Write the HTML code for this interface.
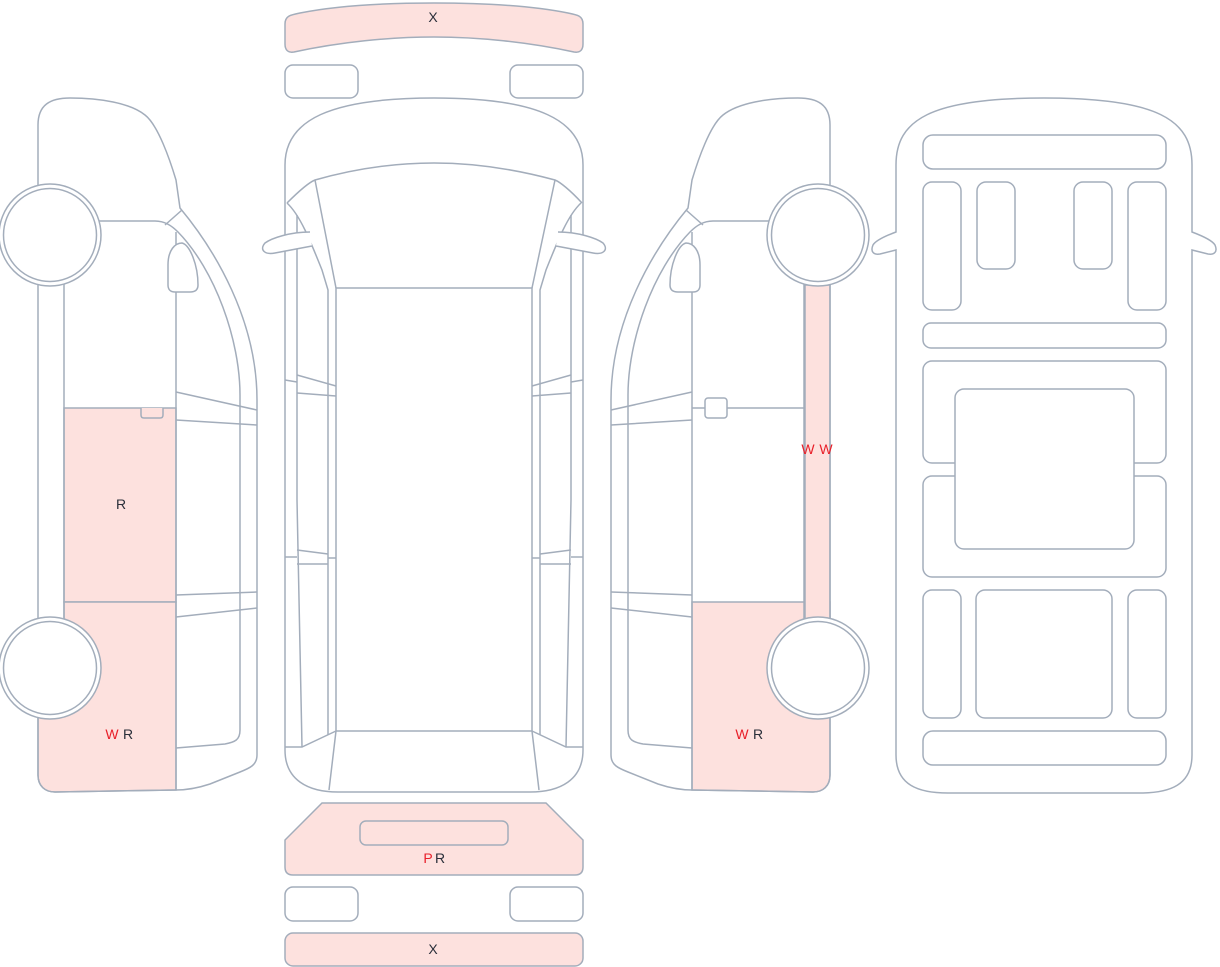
<!DOCTYPE html>
<html><head><meta charset="utf-8"><style>
html,body{margin:0;padding:0;background:#fff}
svg{display:block}
text{font-family:"Liberation Sans",sans-serif;font-size:14px;fill:#2a2f3a;text-anchor:middle}
.r{fill:#e8202a}
</style></head><body>
<svg width="1220" height="967" viewBox="0 0 1220 967" xmlns="http://www.w3.org/2000/svg">
<defs>
<g id="side">
  <path d="M38,185 L38,125 C38,105 50,98 70,98 C100,98 130,103 145,115 C158,125 170,160 176,180 L180,208 C215,250 257,320 257,400 L257,755 C257,765 250,768 240,772 L210,784 C195,789 185,790 176,790 L55,792 C45,792 38,786 38,775 Z" fill="none"/>
  <path d="M64,282 L64,622"/>
  <path d="M98,221 L155,221 C165,221 172,226 178,232 C215,270 240,340 240,395 L240,730 C240,740 235,742 225,744 L176,748" fill="none"/>
  <path d="M165,225 L182,210"/>
  <path d="M176,232 L176,790"/>
  <path d="M168,265 C168,250 175,243 182,243 C190,245 198,265 198,285 C198,290 195,292 190,292 L175,292 C170,292 168,289 168,285 Z" fill="#fff"/>
  <path d="M176,392 L257,410 M176,420 L257,425 M176,595 L257,592 M176,617 L257,608"/>
  <circle cx="50" cy="235" r="51" fill="#fff"/><circle cx="50" cy="235" r="46.5" fill="#fff"/>
  <circle cx="50" cy="668" r="51" fill="#fff"/><circle cx="50" cy="668" r="46.5" fill="#fff"/>
</g>
</defs>
<g stroke="#a3adbb" stroke-width="1.5" fill="none">
<rect x="64" y="408" width="112" height="194" fill="#fde1de"/>
<path d="M64,602 L176,602 L176,790 L55,792 C45,792 38,786 38,775 L38,650 L64,650 Z" fill="#fde1de"/>
<use href="#side"/>
<path d="M141,408 L141,415 Q141,418 144,418 L160,418 Q163,418 163,415 L163,408" fill="#fde1de"/>
<path d="M692,602 L830,602 L830,775 C830,786 823,792 813,792 L692,790 Z" fill="#fde1de"/>
<rect x="805" y="285" width="25" height="335" fill="#fde1de"/>
<g transform="translate(868,0) scale(-1,1)"><use href="#side"/></g>
<path d="M692,408 L805,408"/>
<rect x="705" y="398" width="22" height="20" rx="3" fill="#fff"/>
<path d="M285,24 C285,16 290,15 300,13 C340,5 390,3 434,3 C478,3 528,5 568,13 C578,15 583,16 583,24 L583,44 C583,50 580,53 574,52 C528,42 478,37 434,37 C390,37 340,42 294,52 C288,53 285,50 285,44 Z" fill="#fde1de"/>
<rect x="285" y="65" width="73" height="33" rx="8"/><rect x="510" y="65" width="73" height="33" rx="8"/>
<path d="M285,205 L285,165 C285,120 330,98 434,98 C538,98 583,120 583,165 L583,750 C583,780 560,792 530,792 L338,792 C308,792 285,780 285,750 Z"/>
<path d="M287,203 C300,190 310,182 315,180 C350,170 390,163 434,163 C478,163 518,170 555,180 C560,182 570,190 582,203"/>
<path d="M287,203 C300,215 310,240 322,270 L328,290 L328,735 M581,203 C568,215 558,240 546,270 L540,290 L540,735"/>
<path d="M315,180 L336,288 M555,180 L532,288"/>
<rect x="336" y="288" width="196" height="443"/>
<path d="M297,215 L297,500 L302,747 M571,215 L571,500 L566,747"/>
<path d="M336,731 L302,747 L285,747 M336,731 L329,790 M532,731 L539,790 M532,731 L566,747 L583,747"/>
<path d="M285,380 L297,382 M297,375 L336,386 M297,393 L336,396 M583,380 L571,382 M571,375 L532,386 M571,393 L532,396"/>
<path d="M285,557 L297,557 M297,550 L328,554 M297,564 L328,564 M328,558 L336,558 M583,557 L571,557 M571,550 L540,554 M571,564 L540,564 M540,558 L532,558"/>
<path d="M310,232 C290,232 272,238 265,243 C259,250 265,255 275,253 L312,246" fill="#fff"/>
<path d="M558,232 C578,232 596,238 603,243 C609,250 603,255 593,253 L556,246" fill="#fff"/>
<path d="M322,803 L546,803 L583,840 L583,867 Q583,875 575,875 L293,875 Q285,875 285,867 L285,840 Z" fill="#fde1de"/>
<rect x="360" y="821" width="148" height="24" rx="6"/>
<rect x="285" y="887" width="73" height="34" rx="8"/><rect x="510" y="887" width="73" height="34" rx="8"/>
<rect x="285" y="933" width="298" height="33" rx="8" fill="#fde1de"/>
<path d="M896,232 L896,165 C896,120 930,98 1044,98 C1158,98 1192,120 1192,165 L1192,232 C1200,235 1212,240 1215,245 C1218,252 1214,255 1208,254 L1192,250 L1192,755 C1192,785 1170,793 1140,793 L948,793 C918,793 896,785 896,755 L896,250 L880,254 C874,255 870,252 873,245 C876,240 888,235 896,232 Z"/>
<rect x="923" y="135" width="243" height="34" rx="10"/>
<rect x="923" y="182" width="38" height="128" rx="9"/>
<rect x="977" y="182" width="38" height="87" rx="9"/>
<rect x="1074" y="182" width="38" height="87" rx="9"/>
<rect x="1128" y="182" width="38" height="128" rx="9"/>
<rect x="923" y="323" width="243" height="25" rx="8"/>
<rect x="923" y="361" width="243" height="102" rx="9"/>
<rect x="923" y="476" width="243" height="101" rx="9"/>
<rect x="955" y="389" width="179" height="160" rx="9" fill="#fff"/>
<rect x="923" y="590" width="38" height="128" rx="9"/>
<rect x="976" y="590" width="136" height="128" rx="9"/>
<rect x="1128" y="590" width="38" height="128" rx="9"/>
<rect x="923" y="731" width="243" height="34" rx="10"/>
</g>
<text x="433" y="22">X</text>
<text x="433" y="954">X</text>
<text x="121" y="509">R</text>
<text x="112" y="739" class="r">W</text><text x="128" y="739">R</text>
<text x="742" y="739" class="r">W</text><text x="758" y="739">R</text>
<text x="808" y="454" class="r">W</text><text x="826" y="454" class="r">W</text>
<text x="428" y="863" class="r">P</text><text x="440" y="863">R</text>
</svg>
</body></html>
